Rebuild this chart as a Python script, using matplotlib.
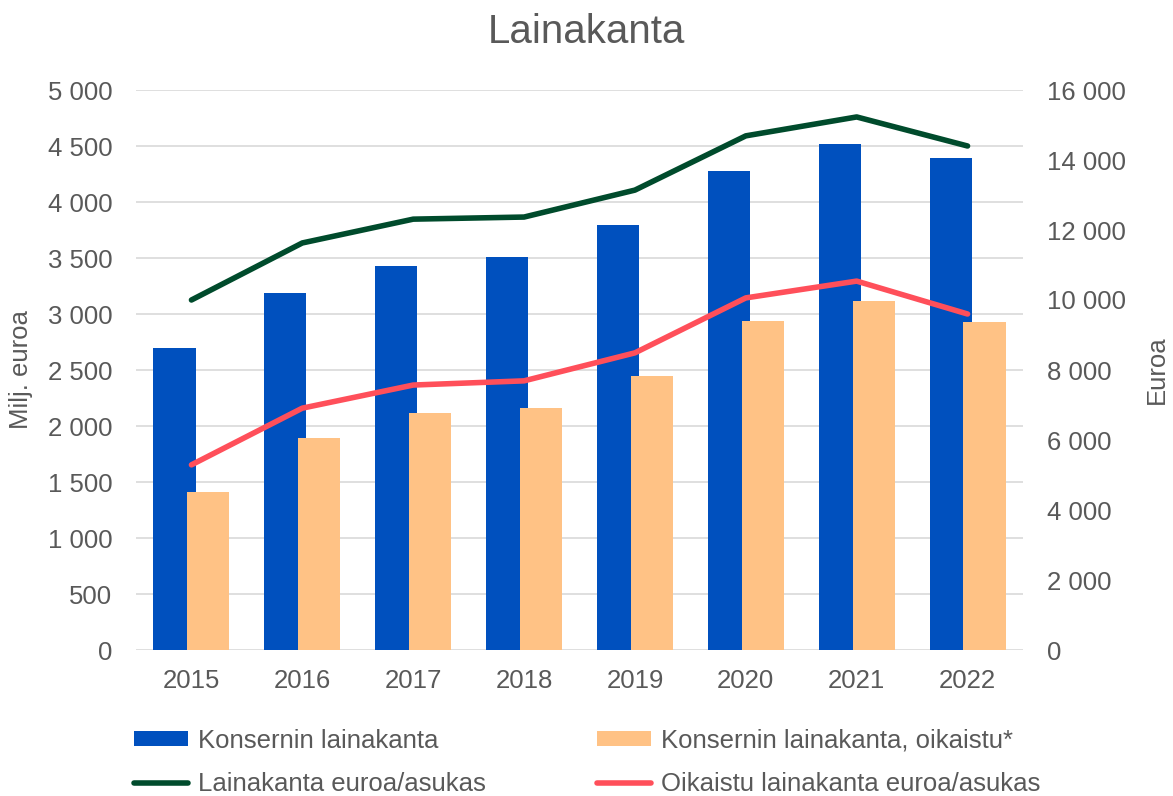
import numpy as np
import matplotlib.pyplot as plt
from matplotlib.ticker import FuncFormatter

plt.rcParams['font.family'] = ['Liberation Sans', 'DejaVu Sans']

years = ['2015', '2016', '2017', '2018', '2019', '2020', '2021', '2022']
konserni = [2700, 3190, 3430, 3510, 3795, 4277, 4518, 4393]
konserni_oik = [1411, 1893, 2116, 2161, 2446, 2938, 3116, 2929]
per_asukas = [10000, 11630, 12310, 12370, 13140, 14690, 15230, 14400]
per_asukas_oik = [5290, 6910, 7570, 7690, 8490, 10060, 10540, 9600]

gray = '#595959'
blue = '#0050BE'
orange = '#FFC285'
green = '#004B2C'
red = '#FF4F5A'

def thousands(v, pos):
    return f"{int(v):,}".replace(',', ' ')

fig = plt.figure(figsize=(11.73, 7.96), dpi=100)
ax = fig.add_axes([136/1173, 146/796, 887/1173, 560/796])
ax2 = ax.twinx()

x = np.arange(len(years))
w = 0.38
off = 0.153
b1 = ax.bar(x - off, konserni, w, color=blue, zorder=2, label='Konsernin lainakanta')
b2 = ax.bar(x + off, konserni_oik, w, color=orange, zorder=3, label='Konsernin lainakanta, oikaistu*')

l1, = ax2.plot(x, per_asukas, color=green, lw=4, solid_capstyle='round',
               label='Lainakanta euroa/asukas')
l2, = ax2.plot(x, per_asukas_oik, color=red, lw=4, solid_capstyle='round',
               label='Oikaistu lainakanta euroa/asukas')

ax.set_xlim(-0.5, 7.5)
ax.set_ylim(0, 5000)
ax.set_yticks(np.arange(0, 5001, 500))
ax2.set_ylim(0, 16000)
ax2.set_yticks(np.arange(0, 16001, 2000))
ax.yaxis.set_major_formatter(FuncFormatter(thousands))
ax2.yaxis.set_major_formatter(FuncFormatter(thousands))
ax.set_xticks(x)
ax.set_xticklabels(years)

ax.grid(axis='y', color='#D9D9D9', lw=1.2, zorder=0)
ax.set_axisbelow(True)
for a in (ax, ax2):
    for s in a.spines.values():
        s.set_visible(False)
    a.tick_params(length=0, labelsize=18.5, colors=gray)
ax.tick_params(axis='y', pad=17)
ax2.tick_params(axis='y', pad=17)
ax.tick_params(axis='x', pad=14)

ax.set_ylabel('Milj. euroa', fontsize=18.5, color=gray)
ax2.set_ylabel('Euroa', fontsize=18.5, color=gray)
ax.yaxis.set_label_coords(-0.116, 0.5)
ax2.yaxis.set_label_coords(1.1375, 0.5)

fig.text(586/1173, 1 - 32/796, 'Lainakanta', ha='center', va='center', fontsize=29, color=gray)

leg = fig.legend([b1, l1, b2, l2],
                 [b1.get_label(), l1.get_label(), b2.get_label(), l2.get_label()],
                 ncol=2, loc='upper left', bbox_to_anchor=(121/1173, 1 - 716/796),
                 frameon=False, fontsize=18.5, handlelength=2.1, handleheight=0.55,
                 handletextpad=0.4, columnspacing=4.33, labelspacing=0.75, borderpad=0)
for t in leg.get_texts():
    t.set_color(gray)

fig.savefig('out.png', dpi=100)
